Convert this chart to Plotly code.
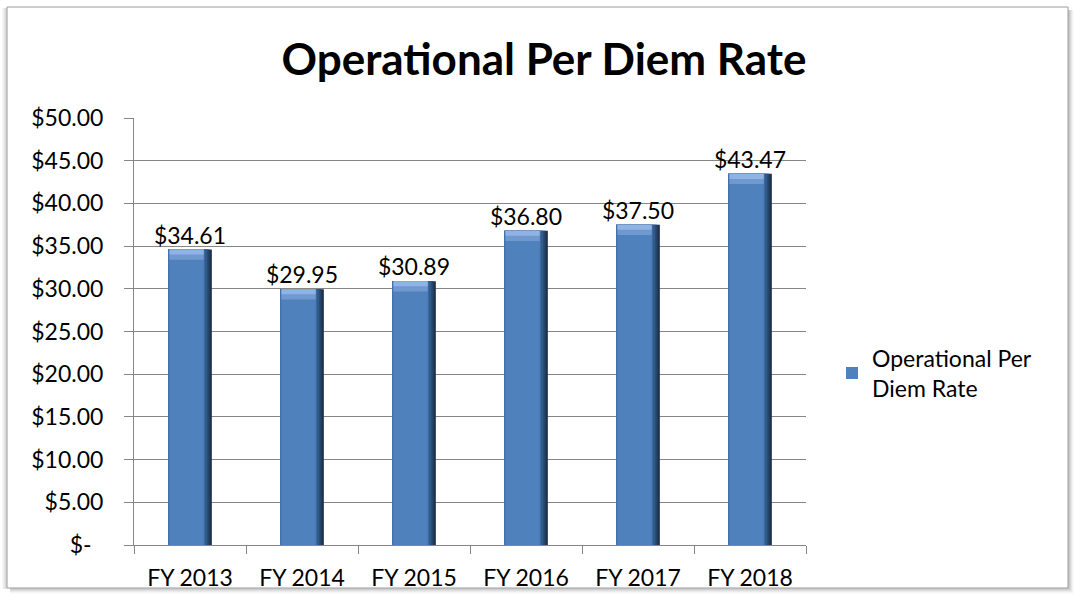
import plotly.graph_objects as go

categories = ["FY 2013", "FY 2014", "FY 2015", "FY 2016", "FY 2017", "FY 2018"]
rates = [34.61, 29.95, 30.89, 36.80, 37.50, 43.47]
tick_values = [0, 5, 10, 15, 20, 25, 30, 35, 40, 45, 50]
tick_labels = ["$-\u00a0\u00a0"] + [f"${v:.2f}" for v in tick_values[1:]]
series_name = "Operational Per<br>Diem Rate"

W, H = 1075, 595
L, R, T, B = 134, 806, 118, 545

def px_x(p):
    return (p - L) / (R - L)

def px_y(p):
    return (B - p) / (B - T)

FONT = "Lato, 'Open Sans', sans-serif"
bar_w = 0.39
half = bar_w / 2

fig = go.Figure()

# bevel-like layered bars (all driven by the same data)
layers = [
    (bar_w, "#1d314d"),
    (bar_w - 0.02, "#27446b"),
    (bar_w - 0.04, "#335a8c"),
    (bar_w - 0.065, "#4677b2"),
]
for w, c in layers:
    fig.add_trace(go.Bar(
        x=categories, y=rates, width=[w] * len(rates), offset=[-half] * len(rates),
        marker=dict(color=c, line=dict(width=0)), showlegend=False, hoverinfo="skip",
    ))
# main face
face_w = bar_w - 0.085
face_off = -half + 0.012
fig.add_trace(go.Bar(
    x=categories, y=rates, width=[face_w] * len(rates), offset=[face_off] * len(rates),
    marker=dict(color="#4f81bd", line=dict(width=0)), name=series_name, showlegend=True,
    hoverinfo="skip",
))
# top light bevel (two steps)
for depth, c in [(1.2, "#6f99cf"), (0.6, "#8fb3e2")]:
    fig.add_trace(go.Bar(
        x=categories, y=[depth] * len(rates), base=[v - depth for v in rates],
        width=[face_w] * len(rates), offset=[face_off] * len(rates),
        marker=dict(color=c, line=dict(width=0)), showlegend=False, hoverinfo="skip",
    ))
# data labels
fig.add_trace(go.Scatter(
    x=categories, y=rates, mode="text",
    text=[f"${v:.2f}" for v in rates], textposition="top center",
    textfont=dict(family=FONT, size=23, color="#000000"),
    showlegend=False, hoverinfo="skip", cliponaxis=False,
))

fig.update_layout(
    width=W, height=H,
    margin=dict(l=L, r=W - R, t=T, b=H - B, autoexpand=False),
    paper_bgcolor="white", plot_bgcolor="white",
    barmode="overlay",
    title=dict(text="<b>Operational Per Diem Rate</b>", x=544 / W, xref="container", xanchor="center",
               y=1 - 60 / H, yanchor="middle",
               font=dict(family=FONT, size=44, color="#000000")),
    font=dict(family=FONT, size=23, color="#000000"),
    legend=dict(x=px_x(832), y=px_y(373), xanchor="left", yanchor="middle",
                font=dict(family=FONT, size=23, color="#000000"),
                bgcolor="rgba(0,0,0,0)", itemsizing="constant"),
    showlegend=True,
)
fig.update_xaxes(
    type="category", showline=True, linecolor="#868686", linewidth=1,
    ticks="outside", tickson="boundaries", ticklen=8, tickcolor="#868686",
    ticklabelstandoff=12, automargin=False,
    showgrid=False, tickfont=dict(family=FONT, size=23, color="#000000"),
    range=[-0.5, 5.5],
)
fig.update_yaxes(
    range=[0, 50], tickvals=tick_values, ticktext=tick_labels,
    showline=True, linecolor="#868686", linewidth=1,
    showgrid=True, gridcolor="#868686", gridwidth=1,
    ticks="outside", ticklen=9, tickcolor="#868686",
    ticklabelstandoff=16, automargin=False,
    tickfont=dict(family=FONT, size=23, color="#000000"),
    zeroline=False,
)

# chart frame with shadow
shapes = []
for k, op in enumerate([0.35, 0.25, 0.16, 0.09, 0.04]):
    shapes.append(dict(type="line", xref="paper", yref="paper",
                       x0=px_x(10), x1=px_x(1069 + k), y0=px_y(589 + k), y1=px_y(589 + k),
                       line=dict(color=f"rgba(90,90,90,{op})", width=1.2)))
    shapes.append(dict(type="line", xref="paper", yref="paper",
                       x0=px_x(1069 + k), x1=px_x(1069 + k), y0=px_y(10), y1=px_y(589 + k),
                       line=dict(color=f"rgba(90,90,90,{op})", width=1.2)))
    shapes.append(dict(type="line", xref="paper", yref="paper",
                       x0=px_x(6 - k), x1=px_x(6 - k), y0=px_y(8), y1=px_y(589),
                       line=dict(color=f"rgba(120,120,120,{op * 0.8})", width=1.2)))
shapes.append(dict(type="rect", xref="paper", yref="paper",
                   x0=px_x(7), x1=px_x(1068), y0=px_y(7), y1=px_y(588),
                   line=dict(color="#9a9a9a", width=1), fillcolor="rgba(0,0,0,0)", layer="below"))
fig.update_layout(shapes=shapes)

fig.write_html("out.html", config={"displayModeBar": False},
               post_script="document.body.style.margin='0';document.body.style.overflow='hidden';")
